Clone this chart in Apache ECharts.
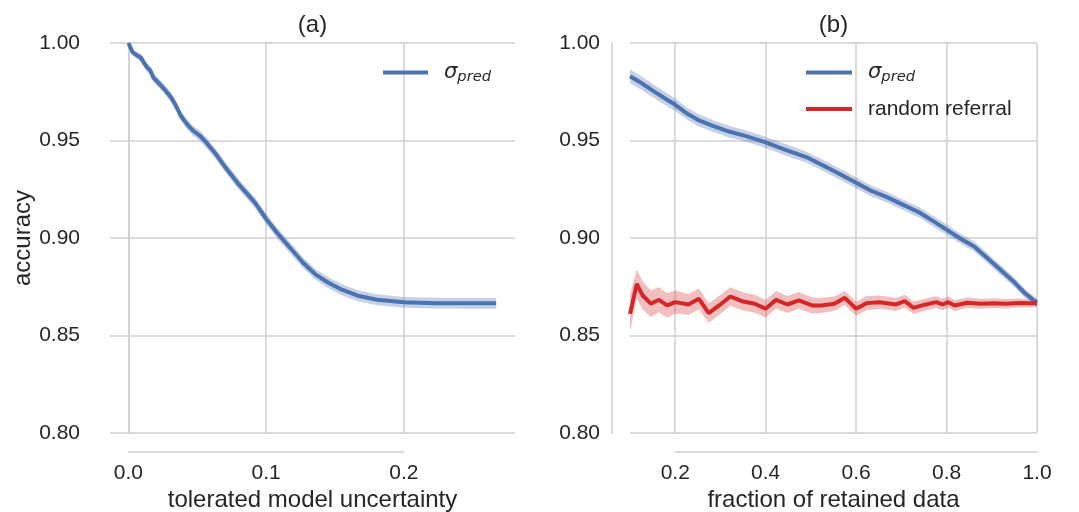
<!DOCTYPE html>
<html lang="en">
<head>
  <meta charset="UTF-8">
  <title>accuracy vs referral</title>
  <script src="https://cdn.jsdelivr.net/npm/echarts@6/dist/echarts.min.js"></script>
  <style>
    html, body { margin: 0; padding: 0; background: #fff; }
    #chart { width: 1079px; height: 512px; }
  </style>
</head>
<body>
  <div id="chart"></div>
  <script>
    // (a) accuracy vs tolerated model uncertainty
    const uncX = [0, 0.003, 0.0065, 0.009, 0.011, 0.0135, 0.016, 0.018, 0.0215, 0.026, 0.031, 0.0345, 0.038,
      0.0425, 0.047, 0.052, 0.0565, 0.0635, 0.0705, 0.08, 0.092, 0.1, 0.108, 0.1175, 0.127, 0.136, 0.1455,
      0.155, 0.1665, 0.1805, 0.2, 0.2225, 0.245, 0.267]
    const uncAcc = [1.0, 0.9952, 0.9935, 0.9926, 0.9901, 0.9875, 0.9858, 0.9824, 0.9798, 0.9764, 0.9721, 0.9678, 0.9627,
      0.9584, 0.955, 0.9524, 0.949, 0.943, 0.9361, 0.9276, 0.918, 0.9098, 0.9026, 0.8949, 0.8872, 0.8812, 0.8769,
      0.8735, 0.8704, 0.8683, 0.867, 0.8666, 0.8665, 0.8665]
    const uncErr = [0.0006, 0.0015, 0.0019, 0.002, 0.0021, 0.0022, 0.0023, 0.0024, 0.0024, 0.0025, 0.0025, 0.0026, 0.0026,
      0.0026, 0.0026, 0.0026, 0.0027, 0.0027, 0.0027, 0.0027, 0.0027, 0.0027, 0.0028, 0.0028, 0.0028, 0.0028, 0.0028,
      0.0028, 0.0028, 0.0028, 0.0028, 0.0028, 0.0028, 0.0028]

    // (b) accuracy vs fraction of retained data
    const fracX = [0.1, 0.125, 0.153, 0.182, 0.2, 0.225, 0.25, 0.283, 0.319, 0.355, 0.4, 0.441, 0.491, 0.537, 0.573,
      0.6, 0.635, 0.667, 0.703, 0.739, 0.775, 0.8, 0.832, 0.861, 0.89, 0.919, 0.948, 0.973, 1.0]
    const fracAcc = [0.9829, 0.9795, 0.9752, 0.9709, 0.9683, 0.964, 0.9606, 0.9575, 0.9546, 0.9524, 0.949, 0.9455,
      0.9414, 0.936, 0.9317, 0.9283, 0.924, 0.9211, 0.9171, 0.9132, 0.908, 0.9043, 0.8995, 0.8957, 0.8897, 0.8837,
      0.8777, 0.8717, 0.8668]
    const fracErr = [0.0036, 0.0035, 0.0034, 0.0033, 0.0032, 0.0031, 0.0031, 0.003, 0.003, 0.0029, 0.0029, 0.0029,
      0.0028, 0.0028, 0.0028, 0.0028, 0.0028, 0.0028, 0.0027, 0.0027, 0.0027, 0.0027, 0.0026, 0.0026, 0.0025, 0.0025,
      0.0024, 0.0023, 0.0021]

    const randX = [0.1, 0.115, 0.128, 0.146, 0.164, 0.182, 0.2, 0.229, 0.2525, 0.274, 0.297, 0.322, 0.3475, 0.376,
      0.4, 0.423, 0.448, 0.4735, 0.502, 0.5235, 0.552, 0.575, 0.6, 0.6235, 0.652, 0.688, 0.708, 0.727, 0.752, 0.777,
      0.791, 0.804, 0.818, 0.846, 0.875, 0.904, 0.932, 0.96, 0.98, 1.0]
    const randAcc = [0.8611, 0.8765, 0.8705, 0.8663, 0.8683, 0.8654, 0.8671, 0.8659, 0.8688, 0.8615, 0.8654, 0.87,
      0.8676, 0.8663, 0.8637, 0.8683, 0.8659, 0.868, 0.8654, 0.8654, 0.8663, 0.8693, 0.8637, 0.8666, 0.8671, 0.8659,
      0.8676, 0.8642, 0.8658, 0.8671, 0.8659, 0.8671, 0.8654, 0.8668, 0.8663, 0.8666, 0.8663, 0.8667, 0.8665, 0.8666]
    const randErr = [0.0095, 0.0075, 0.0072, 0.0068, 0.0064, 0.0063, 0.0058, 0.0054, 0.0053, 0.0051, 0.0049, 0.0048, 0.0047,
      0.0046, 0.0045, 0.0045, 0.0044, 0.0043, 0.0041, 0.0039, 0.0037, 0.0037, 0.0036, 0.0035, 0.0034, 0.0033, 0.0033,
      0.0032, 0.0031, 0.003, 0.0029, 0.0029, 0.0028, 0.0027, 0.0026, 0.0025, 0.0024, 0.0023, 0.0021, 0.002]

    const yTicks = [0.8, 1.0]
    const xlimA = [-0.0134, 0.2807]
    const xlimB = [0.1, 1.0]
    const spineA = [0, 0.2]
    const spineB = [0.2, 1.0]

    const BLUE = '#4c72b0'
    const RED = '#d62728'
    const GRID_C = '#cfcfcf'
    const TEXT_C = '#262626'
    const FONT = 'Liberation Sans'

    // plot boxes (px)
    const boxA = { left: 110, top: 43, width: 405, height: 390 }
    const boxB = { left: 630, top: 43, width: 407, height: 390 }

    function spineBox (box, xlim, span) {
      const k = box.width / (xlim[1] - xlim[0])
      return {
        left: box.left + (span[0] - xlim[0]) * k,
        top: box.top,
        width: (span[1] - span[0]) * k,
        height: box.height
      }
    }

    function gridOf (box) {
      // keep the box where it is, even when names run past the canvas
      return Object.assign({ outerBoundsMode: 'none', containLabel: false }, box)
    }

    function pairs (xs, ys) {
      return xs.map((x, i) => [x, ys[i]])
    }

    function bandSeries (xs, mean, err, color, axisIdx) {
      return {
        type: 'custom',
        xAxisIndex: axisIdx,
        yAxisIndex: axisIdx,
        silent: true,
        z: 1,
        data: xs.map((x, i) => [x, mean[i] - err[i], mean[i] + err[i]]),
        encode: { x: 0, y: [1, 2] },
        renderItem: function (params, api) {
          if (params.dataIndex !== 0) return
          const pts = []
          for (let i = 0; i < xs.length; i++) pts.push(api.coord([xs[i], mean[i] - err[i]]))
          for (let i = xs.length - 1; i >= 0; i--) pts.push(api.coord([xs[i], mean[i] + err[i]]))
          return { type: 'polygon', shape: { points: pts }, style: { fill: color } }
        }
      }
    }

    function lineSeries (name, xs, ys, color, axisIdx) {
      return {
        name: name,
        type: 'line',
        xAxisIndex: axisIdx,
        yAxisIndex: axisIdx,
        showSymbol: false,
        symbol: 'none',
        silent: true,
        z: 3,
        lineStyle: { color: color, width: 4 },
        itemStyle: { color: color },
        data: pairs(xs, ys)
      }
    }

    const sA = spineBox(boxA, xlimA, spineA)
    const sB = spineBox(boxB, xlimB, spineB)

    const labelStyle = { color: TEXT_C, fontSize: 21, fontFamily: FONT }
    const nameStyle = { color: TEXT_C, fontSize: 24, fontFamily: FONT }
    const lineCol = { color: GRID_C, width: 1.5 }

    function dataY (showName) {
      return {
        type: 'value',
        min: yTicks[0],
        max: yTicks[1],
        interval: 0.05,
        offset: 18,
        name: showName ? 'accuracy' : '',
        nameLocation: 'middle',
        nameGap: 57,
        nameTextStyle: nameStyle,
        axisLine: { show: true, lineStyle: lineCol },
        axisTick: { show: false },
        axisLabel: Object.assign({ margin: 12, formatter: v => v.toFixed(2) }, labelStyle),
        splitLine: { show: true, lineStyle: lineCol }
      }
    }

    function dataX (xlim, name) {
      return {
        type: 'value',
        min: xlim[0],
        max: xlim[1],
        name: name,
        nameLocation: 'middle',
        nameGap: 55,
        nameTextStyle: nameStyle,
        axisLine: { show: false },
        axisTick: { show: false },
        axisLabel: { show: false },
        splitLine: { show: false }
      }
    }

    function spineX (span, interval) {
      return {
        type: 'value',
        min: span[0],
        max: span[1],
        interval: interval,
        offset: 19,
        axisLine: { show: true, lineStyle: lineCol },
        axisTick: { show: false },
        axisLabel: Object.assign({ margin: 11, formatter: v => v.toFixed(1) }, labelStyle),
        splitLine: { show: true, lineStyle: lineCol }
      }
    }

    function hiddenY () {
      return { type: 'value', min: yTicks[0], max: yTicks[1], show: false }
    }

    const sigmaRich = {
      s: { fontFamily: 'DejaVu Sans', fontStyle: 'italic', fontSize: 21, color: TEXT_C, padding: [0, 0, 0, 11] },
      sub: { fontFamily: 'DejaVu Sans', fontStyle: 'italic', fontSize: 14.7, color: TEXT_C, padding: [9, 0, 0, 0] },
      r: { fontFamily: FONT, fontSize: 21, color: TEXT_C, padding: [0, 0, 0, 11] }
    }
    function legendFmt (name) {
      return name === 'sigma' ? '{s|σ}{sub|pred}' : '{r|random referral}'
    }

    const chart = echarts.init(document.getElementById('chart'), null, { renderer: 'canvas' })
    chart.setOption({
      backgroundColor: '#fff',
      animation: false,
      textStyle: { fontFamily: FONT },
      title: [
        { text: '(a)', left: boxA.left + boxA.width / 2, top: 13, textAlign: 'center', padding: 0,
          textStyle: { color: TEXT_C, fontSize: 24, fontWeight: 'normal', fontFamily: FONT } },
        { text: '(b)', left: boxB.left + boxB.width / 2, top: 13, textAlign: 'center', padding: 0,
          textStyle: { color: TEXT_C, fontSize: 24, fontWeight: 'normal', fontFamily: FONT } }
      ],
      legend: [
        { data: ['sigma'], left: 383, top: 62, orient: 'vertical', icon: 'rect', itemWidth: 45, itemHeight: 4,
          padding: 0, itemGap: 14, formatter: legendFmt, selectedMode: false,
          textStyle: { rich: sigmaRich } },
        { data: ['sigma', 'random'], left: 806, top: 62, orient: 'vertical', icon: 'rect', itemWidth: 46, itemHeight: 4,
          padding: 0, itemGap: 14, formatter: legendFmt, selectedMode: false,
          textStyle: { rich: sigmaRich } }
      ],
      grid: [gridOf(boxA), gridOf(boxB), gridOf(sA), gridOf(sB)],
      xAxis: [
        Object.assign({ gridIndex: 0 }, dataX(xlimA, 'tolerated model uncertainty')),
        Object.assign({ gridIndex: 1 }, dataX(xlimB, 'fraction of retained data')),
        Object.assign({ gridIndex: 2 }, spineX(spineA, 0.1)),
        Object.assign({ gridIndex: 3 }, spineX(spineB, 0.2))
      ],
      yAxis: [
        Object.assign({ gridIndex: 0 }, dataY(true)),
        Object.assign({ gridIndex: 1 }, dataY(false)),
        Object.assign({ gridIndex: 2 }, hiddenY()),
        Object.assign({ gridIndex: 3 }, hiddenY())
      ],
      series: [
        bandSeries(uncX, uncAcc, uncErr, 'rgba(76,114,176,0.32)', 0),
        lineSeries('sigma', uncX, uncAcc, BLUE, 0),
        bandSeries(fracX, fracAcc, fracErr, 'rgba(76,114,176,0.32)', 1),
        bandSeries(randX, randAcc, randErr, 'rgba(214,39,40,0.3)', 1),
        lineSeries('sigma', fracX, fracAcc, BLUE, 1),
        lineSeries('random', randX, randAcc, RED, 1)
      ]
    })

    window.addEventListener('resize', () => chart.resize())
  </script>
</body>
</html>
